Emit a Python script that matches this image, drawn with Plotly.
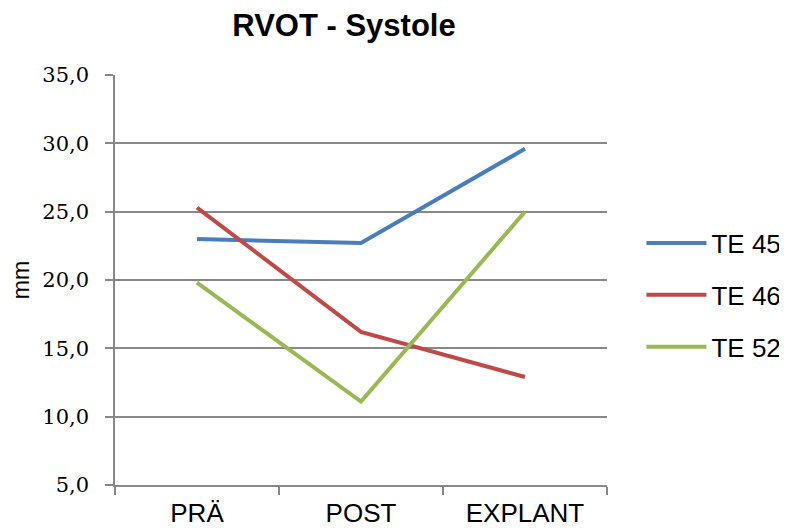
import plotly.graph_objects as go

categories = ["PRÄ", "POST", "EXPLANT"]
te45 = [23.0, 22.7, 29.6]
te46 = [25.3, 16.2, 12.9]
te52 = [19.8, 11.1, 25.0]
y_ticks = [5, 10, 15, 20, 25, 30, 35]
y_tick_labels = ["5,0", "10,0", "15,0", "20,0", "25,0", "30,0", "35,0"]

series = [
    ("TE 45", te45, "#4a7ebb"),
    ("TE 46", te46, "#be4b48"),
    ("TE 52", te52, "#98b954"),
]

fig = go.Figure()
for name, vals, color in series:
    fig.add_trace(go.Scatter(
        x=categories, y=vals, name=name, mode="lines", legendgroup=name,
        line=dict(color=color, width=4),
    ))

fig.update_layout(
    width=787, height=530,
    margin=dict(l=107, r=188, t=67, b=53, autoexpand=False),
    paper_bgcolor="white", plot_bgcolor="white",
    title=dict(text="<b>RVOT - Systole</b>", x=336 / 787, xanchor="center", y=1 - 17 / 530,
               yanchor="middle", font=dict(family="Liberation Sans, Arial", size=31, color="black")),
    legend=dict(x=1.07, y=0.463, xanchor="left", yanchor="middle",
                font=dict(family="Liberation Sans, Arial", size=26, color="black"),
                tracegroupgap=15, itemwidth=60),
    showlegend=True,
)
fig.update_xaxes(
    type="category", range=[-0.5, 2.5], tickson="boundaries",
    ticks="outside", ticklen=8, tickcolor="#888888", tickwidth=1.5,
    showline=True, linecolor="#888888", linewidth=1.5,
    showgrid=False, zeroline=False, ticklabelstandoff=4, automargin=False,
    tickfont=dict(family="Liberation Sans, Arial", size=26, color="black"),
)
fig.update_yaxes(
    range=[5, 35], tickvals=y_ticks, ticktext=y_tick_labels,
    ticks="outside", ticklen=8, tickcolor="#888888", tickwidth=1.5,
    showline=True, linecolor="#888888", linewidth=1.5,
    showgrid=True, gridcolor="#888888", gridwidth=1.5, zeroline=False,
    ticklabelstandoff=12, automargin=False,
    tickfont=dict(family="DejaVu Serif, Times New Roman", size=21, color="black"),
    title=dict(text="mm", font=dict(family="Liberation Sans, Arial", size=23, color="black"), standoff=8),
)

fig.write_html("out.html")
